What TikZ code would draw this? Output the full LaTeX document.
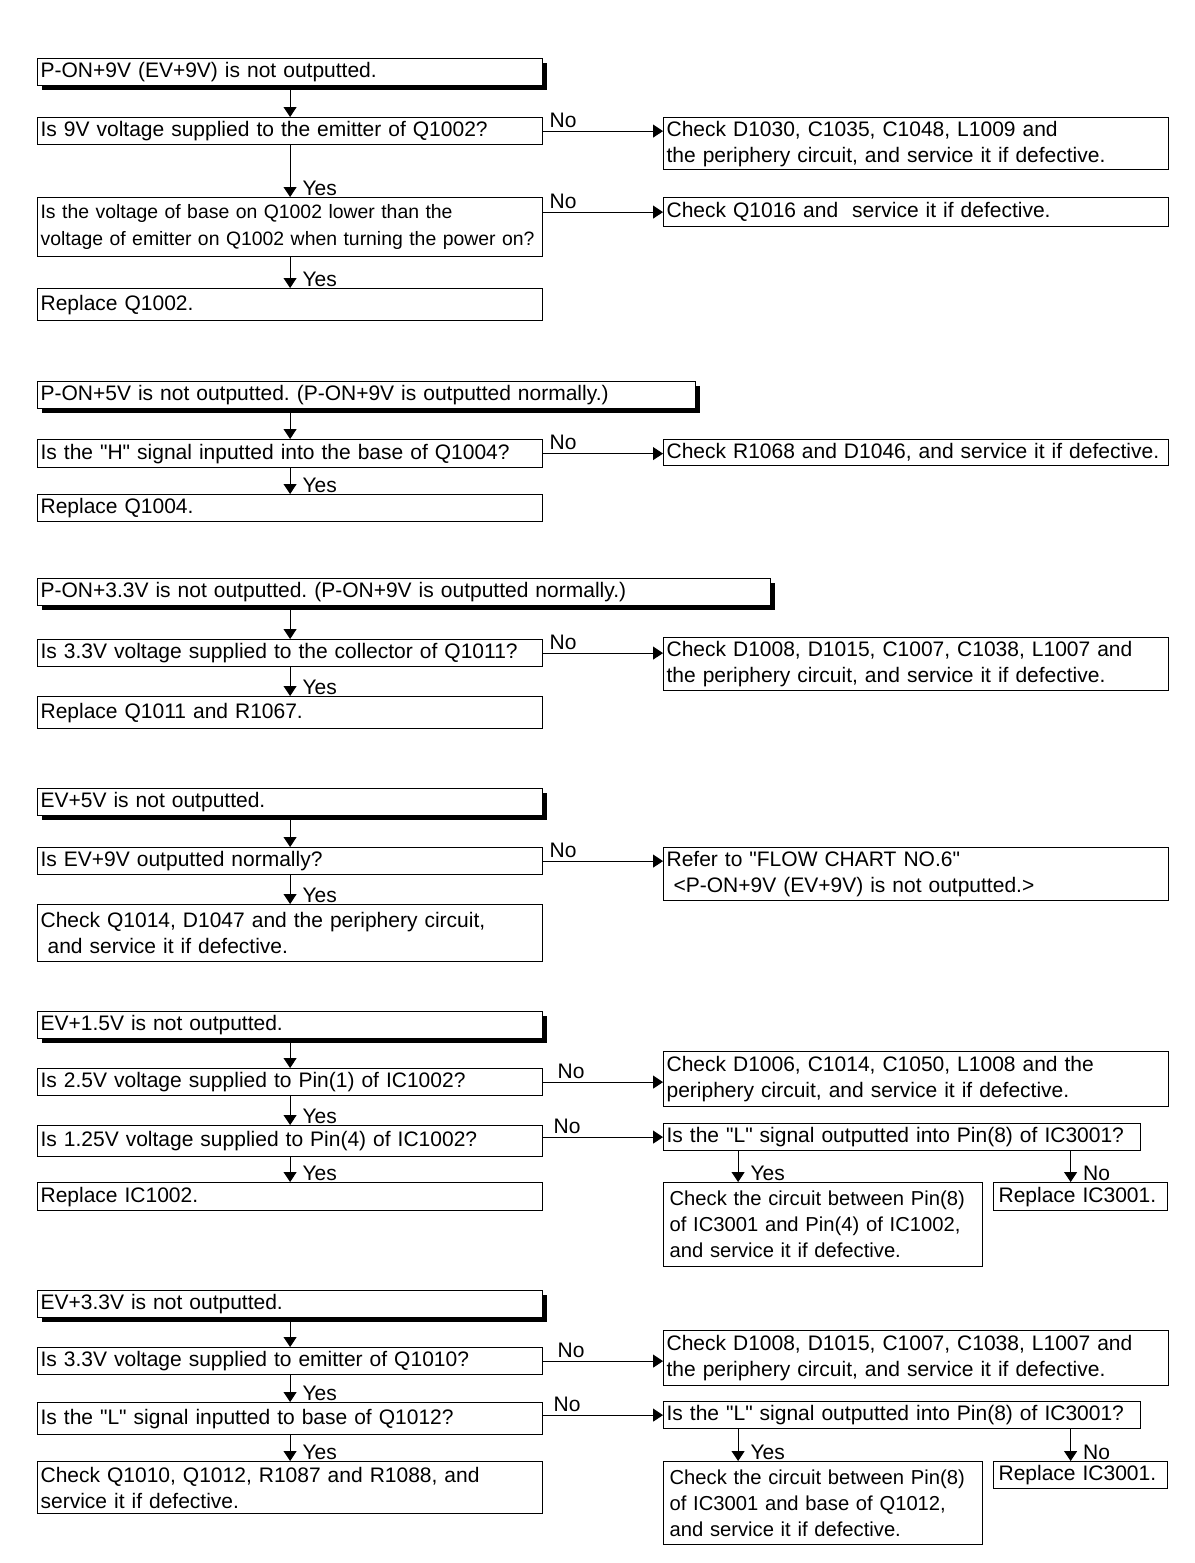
\documentclass[tikz,border=0pt]{standalone}
\usepackage{fontspec}
\setmainfont{Liberation Sans}
\usetikzlibrary{arrows.meta,shadows}
\frenchspacing
\newcommand{\qt}[1]{\textquotedbl#1\textquotedbl}

\begin{document}
\begin{tikzpicture}[
  x=0.5pt,y=-0.5pt,
  box/.style={draw,line width=0.6pt,anchor=north west,align=left,inner xsep=1.5pt,inner ysep=0pt,font=\fontsize{10.5}{13}\selectfont},
  wide/.style={box,text width=249.5pt},
  title/.style={wide,fill=white,drop shadow={shadow xshift=2pt,shadow yshift=-2pt,fill=black,opacity=1}},
  arrow/.style={-{Triangle[length=5pt,width=6.5pt]},line width=0.5pt},
  yes/.style={anchor=south west,inner sep=0pt,xshift=6pt,yshift=0.5pt,font=\fontsize{10.5}{13}\selectfont},
  no/.style={anchor=south west,inner sep=0pt,xshift=3pt,yshift=1.5pt,font=\fontsize{10.5}{13}\selectfont}
  ]
  \useasboundingbox (0,0) rectangle (1194,1563);

  % P-ON+9V
  \node[title,minimum height=13.5pt] (t1) at (37,58) {P-ON+9V (EV+9V) is not outputted.};
  \node[wide,minimum height=13.5pt] (q1) at (37,117) {Is 9V voltage supplied to the emitter of Q1002?};
  \node[wide,minimum height=29.5pt,font=\fontsize{9.7}{13.5}\selectfont] (q2) at (37,197) {Is the voltage of base on Q1002 lower than the\\voltage of emitter on Q1002 when turning the power on?};
  \node[wide,minimum height=16pt] (r1) at (37,288) {Replace Q1002.};
  \node[wide,minimum height=26pt] (a1) at (663,117) {Check D1030, C1035, C1048, L1009 and\\the periphery circuit, and service it if defective.};
  \node[wide,minimum height=14.5pt] (a2) at (663,197) {Check Q1016 and \ service it if defective.};
  \draw[arrow] (t1.south) -- (q1.north);
  \draw[arrow] (q1.south) -- node[yes,pos=1] {Yes} (q2.north);
  \draw[arrow] (q2.south) -- node[yes,pos=1] {Yes} (r1.north);
  \draw[arrow] (q1.east) -- node[no,pos=0] {No} (q1.east -| a1.west);
  \draw[arrow] (q2.east |- a2.west) -- node[no,pos=0] {No} (a2.west);

  % P-ON+5V
  \node[title,text width=326pt,minimum height=13.5pt] (t2) at (37,381) {P-ON+5V is not outputted. (P-ON+9V is outputted normally.)};
  \node[wide,minimum height=14pt] (q3) at (37,439) {Is the \qt{H} signal inputted into the base of Q1004?};
  \node[wide,minimum height=13.5pt] (r2) at (37,494) {Replace Q1004.};
  \node[wide,minimum height=13pt] (a3) at (663,439) {Check R1068 and D1046, and service it if defective.};
  \draw[arrow] (t2.south -| q3.north) -- (q3.north);
  \draw[arrow] (q3.south) -- node[yes,pos=1] {Yes} (r2.north);
  \draw[arrow] (q3.east) -- node[no,pos=0] {No} (q3.east -| a3.west);

  % P-ON+3.3V
  \node[title,text width=363.5pt,minimum height=13.5pt] (t3) at (37,578) {P-ON+3.3V is not outputted. (P-ON+9V is outputted normally.)};
  \node[wide,minimum height=13.5pt] (q4) at (37,639) {Is 3.3V voltage supplied to the collector of Q1011?};
  \node[wide,minimum height=16pt] (r3) at (37,696) {Replace Q1011 and R1067.};
  \node[wide,minimum height=26.5pt] (a4) at (663,637) {Check D1008, D1015, C1007, C1038, L1007 and\\the periphery circuit, and service it if defective.};
  \draw[arrow] (t3.south -| q4.north) -- (q4.north);
  \draw[arrow] (q4.south) -- node[yes,pos=1] {Yes} (r3.north);
  \draw[arrow] (q4.east) -- node[no,pos=0] {No} (q4.east -| a4.west);

  % EV+5V
  \node[title,minimum height=13.5pt] (t4) at (37,788) {EV+5V is not outputted.};
  \node[wide,minimum height=13.5pt] (q5) at (37,847) {Is EV+9V outputted normally?};
  \node[wide,minimum height=28.5pt] (r4) at (37,904) {Check Q1014, D1047 and the periphery circuit,\\\ and service it if defective.};
  \node[wide,minimum height=26.5pt] (a5) at (663,847) {Refer to \qt{FLOW CHART NO.6}\\\ <P-ON+9V (EV+9V) is not outputted.>};
  \draw[arrow] (t4.south) -- (q5.north);
  \draw[arrow] (q5.south) -- node[yes,pos=1] {Yes} (r4.north);
  \draw[arrow] (q5.east) -- node[no,pos=0] {No} (q5.east -| a5.west);

  % EV+1.5V
  \node[title,minimum height=13.5pt] (t5) at (37,1011) {EV+1.5V is not outputted.};
  \node[wide,minimum height=13.5pt] (q6) at (37,1068) {Is 2.5V voltage supplied to Pin(1) of IC1002?};
  \node[wide,minimum height=15.5pt] (q7) at (37,1125) {Is 1.25V voltage supplied to Pin(4) of IC1002?};
  \node[wide,minimum height=14pt] (r5) at (37,1182) {Replace IC1002.};
  \node[wide,minimum height=27.5pt] (a6) at (663,1051) {Check D1006, C1014, C1050, L1008 and the\\periphery circuit, and service it if defective.};
  \node[box,text width=235.5pt,minimum height=13.5pt] (a7) at (663,1123) {Is the \qt{L} signal outputted into Pin(8) of IC3001?};
  \node[box,text width=153.5pt,inner xsep=3pt,minimum height=42pt,font=\fontsize{10.1}{13}\selectfont] (a8) at (663,1182) {Check the circuit between Pin(8)\\of IC3001 and Pin(4) of IC1002,\\and service it if defective.};
  \node[box,text width=82pt,inner xsep=2.5pt,minimum height=14pt] (a9) at (993,1182) {Replace IC3001.};
  \coordinate (y5) at ([xshift=-42.5pt]a8.north);
  \coordinate (n5) at ([xshift=-5pt]a9.north);
  \draw[arrow] (t5.south) -- (q6.north);
  \draw[arrow] (q6.south) -- node[yes,pos=1] {Yes} (q7.north);
  \draw[arrow] (q7.south) -- node[yes,pos=1] {Yes} (r5.north);
  \draw[arrow] (q6.east) -- node[no,pos=0,xshift=4pt] {No} (q6.east -| a6.west);
  \draw[arrow] (q7.east |- a7.west) -- node[no,pos=0,xshift=2pt] {No} (a7.west);
  \draw[arrow] (y5 |- a7.south) -- node[yes,pos=1] {Yes} (y5);
  \draw[arrow] (n5 |- a7.south) -- node[yes,pos=1] {No} (n5);

  % EV+3.3V
  \node[title,minimum height=13.5pt] (t6) at (37,1290) {EV+3.3V is not outputted.};
  \node[wide,minimum height=13.5pt] (q8) at (37,1347) {Is 3.3V voltage supplied to emitter of Q1010?};
  \node[wide,minimum height=16pt] (q9) at (37,1402) {Is the \qt{L} signal inputted to base of Q1012?};
  \node[wide,minimum height=26pt] (r6) at (37,1461) {Check Q1010, Q1012, R1087 and R1088, and\\service it if defective.};
  \node[wide,minimum height=27.5pt] (a10) at (663,1330) {Check D1008, D1015, C1007, C1038, L1007 and\\the periphery circuit, and service it if defective.};
  \node[box,text width=235.5pt,minimum height=13.5pt] (a11) at (663,1401) {Is the \qt{L} signal outputted into Pin(8) of IC3001?};
  \node[box,text width=153.5pt,inner xsep=3pt,minimum height=41.5pt,font=\fontsize{10.1}{13}\selectfont] (a12) at (663,1461) {Check the circuit between Pin(8)\\of IC3001 and base of Q1012,\\and service it if defective.};
  \node[box,text width=82pt,inner xsep=2.5pt,minimum height=13.5pt] (a13) at (993,1461) {Replace IC3001.};
  \coordinate (y6) at ([xshift=-42.5pt]a12.north);
  \coordinate (n6) at ([xshift=-5pt]a13.north);
  \draw[arrow] (t6.south) -- (q8.north);
  \draw[arrow] (q8.south) -- node[yes,pos=1] {Yes} (q9.north);
  \draw[arrow] (q9.south) -- node[yes,pos=1] {Yes} (r6.north);
  \draw[arrow] (q8.east) -- node[no,pos=0,xshift=4pt] {No} (q8.east -| a10.west);
  \draw[arrow] (q9.east |- a11.west) -- node[no,pos=0,xshift=2pt] {No} (a11.west);
  \draw[arrow] (y6 |- a11.south) -- node[yes,pos=1] {Yes} (y6);
  \draw[arrow] (n6 |- a11.south) -- node[yes,pos=1] {No} (n6);
\end{tikzpicture}
\end{document}
